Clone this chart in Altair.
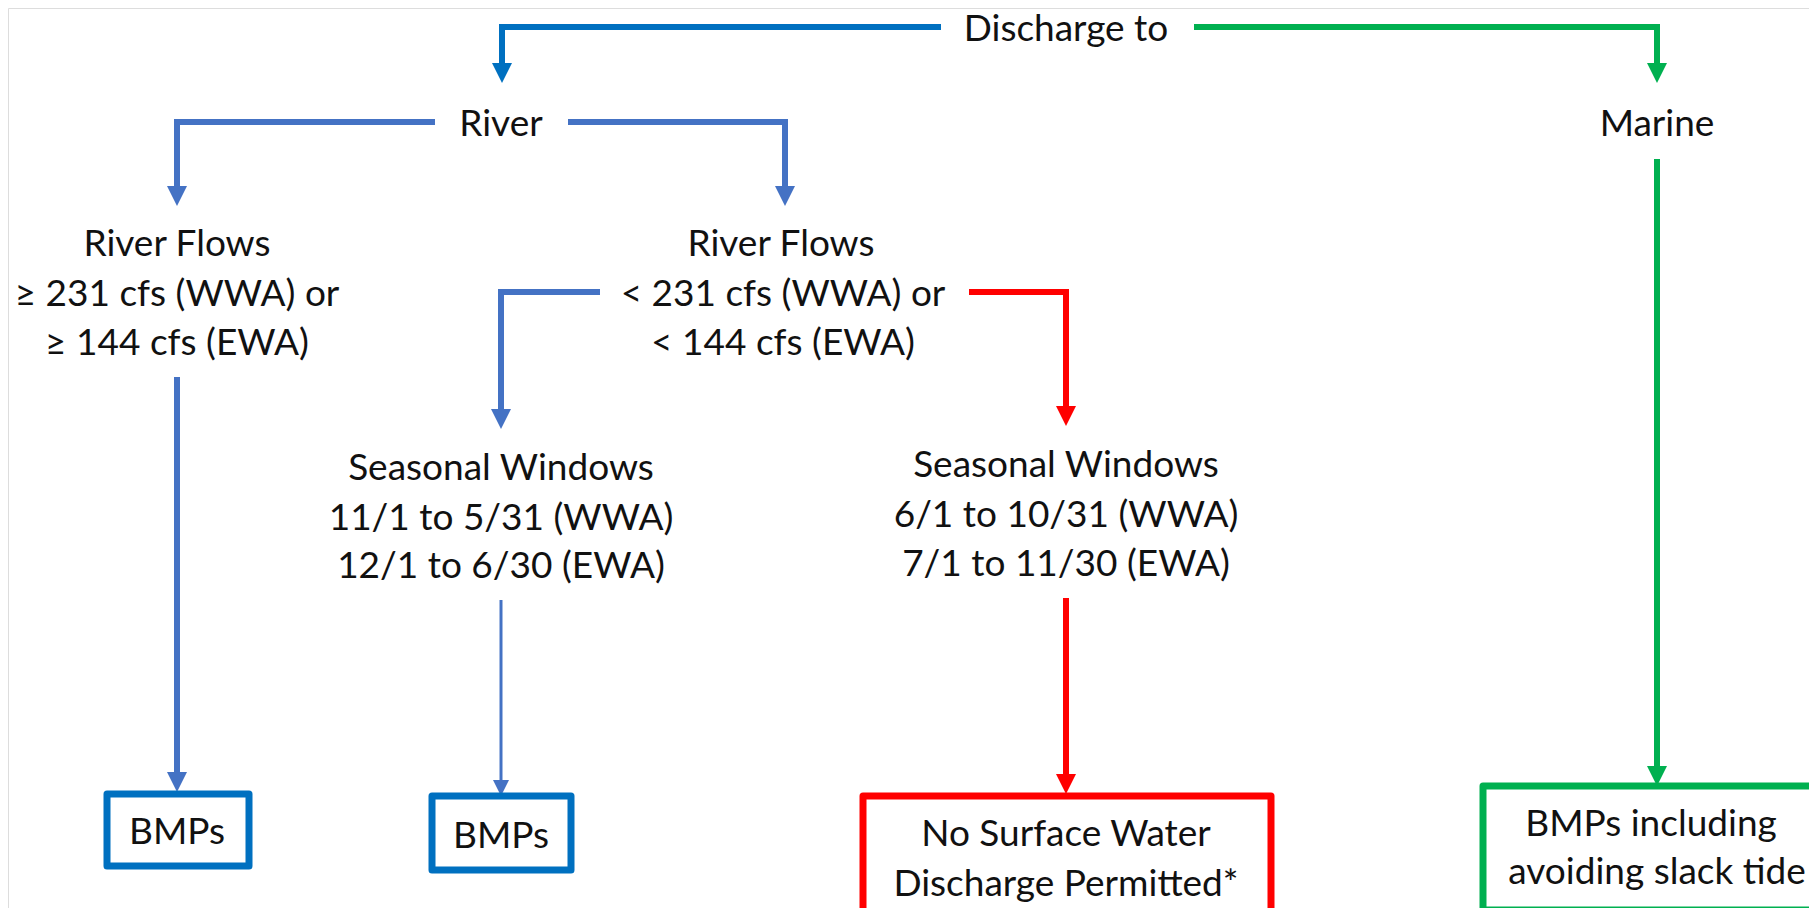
import altair as alt
import pandas as pd

# ---- connectors (polylines) ----
conn_names = ["top_blue", "top_green", "river_left", "river_right", "marine_down",
              "flows_ge_down", "flows_lt_left", "flows_lt_right", "season_wet_down", "season_dry_down"]
conn_x = [[941, 502, 502], [1194, 1657, 1657], [435, 177, 177], [568, 785, 785], [1657, 1657],
          [177, 177], [600, 501, 501], [969, 1066, 1066], [501, 501], [1066, 1066]]
conn_y = [[27, 27, 72], [27, 27, 72], [122, 122, 196], [122, 122, 196], [159, 776],
          [377, 782], [292, 292, 419], [292, 292, 416], [600, 786], [598, 784]]
conn_color = ["#0070C0", "#00B050", "#4472C4", "#4472C4", "#00B050",
              "#4472C4", "#4472C4", "#FF0000", "#4472C4", "#FF0000"]
conn_width = [6, 6, 6, 6, 6, 6, 6, 6, 3, 6]

# ---- arrow heads (tip points) ----
arrow_x = [502, 1657, 177, 785, 1657, 177, 501, 1066, 501, 1066]
arrow_y = [83, 83, 206, 206, 786, 792, 429, 426, 796, 794]
arrow_color = conn_color
arrow_size = [20, 20, 20, 20, 20, 20, 20, 20, 16, 20]

# ---- boxes ----
box_x = [107, 432, 863, 1483]
box_x2 = [249, 571, 1271, 1840]
box_y = [794, 796, 796, 786]
box_y2 = [866, 870, 930, 910]
box_color = ["#0070C0", "#0070C0", "#FF0000", "#00B050"]

# ---- labels ----
label_text = ["Discharge to", "River", "Marine",
              "River Flows", "≥ 231 cfs (WWA) or", "≥ 144 cfs (EWA)",
              "River Flows", "< 231 cfs (WWA) or", "< 144 cfs (EWA)",
              "Seasonal Windows", "11/1 to 5/31 (WWA)", "12/1 to 6/30 (EWA)",
              "Seasonal Windows", "6/1 to 10/31 (WWA)", "7/1 to 11/30 (EWA)",
              "BMPs", "BMPs",
              "No Surface Water", "Discharge Permitted*",
              "BMPs including", "avoiding slack tide"]
label_x = [1066, 501, 1657,
           177, 177, 177,
           781, 783, 783,
           501, 501, 501,
           1066, 1066, 1066,
           177, 501,
           1066, 1066,
           1651, 1657]
label_y = [30, 125, 125,
           245, 295, 344,
           245, 295, 344,
           469, 519, 567,
           466, 516, 565,
           833, 837,
           835, 885,
           825, 873]

# ---- build tables ----
rows = []
for i, name in enumerate(conn_names):
    for j, (xx, yy) in enumerate(zip(conn_x[i], conn_y[i])):
        rows.append({"path": name, "order": j, "x": xx, "y": yy,
                     "color": conn_color[i], "w": conn_width[i]})
lines_df = pd.DataFrame(rows)

arrows_df = pd.DataFrame({
    "x": arrow_x,
    "y": [ty - s / 2 for ty, s in zip(arrow_y, arrow_size)],
    "color": arrow_color,
    "size": [s * s for s in arrow_size],
})
boxes_df = pd.DataFrame({"x": box_x, "x2": box_x2, "y": box_y, "y2": box_y2, "color": box_color})
labels_df = pd.DataFrame({"text": label_text, "x": label_x, "y": label_y})

xs = alt.Scale(domain=[8, 1809], nice=False, zero=False)
ys = alt.Scale(domain=[8, 908], nice=False, zero=False, reverse=True)

lines = alt.Chart(lines_df).mark_line(strokeJoin="miter", strokeCap="butt").encode(
    x=alt.X("x:Q", scale=xs, axis=None),
    y=alt.Y("y:Q", scale=ys, axis=None),
    detail="path:N",
    order="order:Q",
    color=alt.Color("color:N", scale=None),
    strokeWidth=alt.StrokeWidth("w:Q", scale=None),
)

arrows = alt.Chart(arrows_df).mark_point(
    shape="M-1,-1L1,-1L0,1Z", filled=True, opacity=1, strokeWidth=0
).encode(
    x=alt.X("x:Q", scale=xs, axis=None),
    y=alt.Y("y:Q", scale=ys, axis=None),
    color=alt.Color("color:N", scale=None),
    size=alt.Size("size:Q", scale=None),
)

boxes = alt.Chart(boxes_df).mark_rect(fill="white", strokeWidth=7, strokeJoin="round").encode(
    x=alt.X("x:Q", scale=xs, axis=None),
    x2="x2:Q",
    y=alt.Y("y:Q", scale=ys, axis=None),
    y2="y2:Q",
    stroke=alt.Stroke("color:N", scale=None),
)

labels = alt.Chart(labels_df).mark_text(
    font="Lato", fontSize=37, color="#111111", align="center", baseline="middle"
).encode(
    x=alt.X("x:Q", scale=xs, axis=None),
    y=alt.Y("y:Q", scale=ys, axis=None),
    text="text:N",
)

chart = alt.layer(lines, arrows, boxes, labels).properties(
    width=1801, height=900, padding=0, autosize=alt.AutoSizeParams(type="none")
).configure_view(strokeWidth=0).configure(background="white")

chart.save("out.html", embed_options={"renderer": "svg", "actions": False})
